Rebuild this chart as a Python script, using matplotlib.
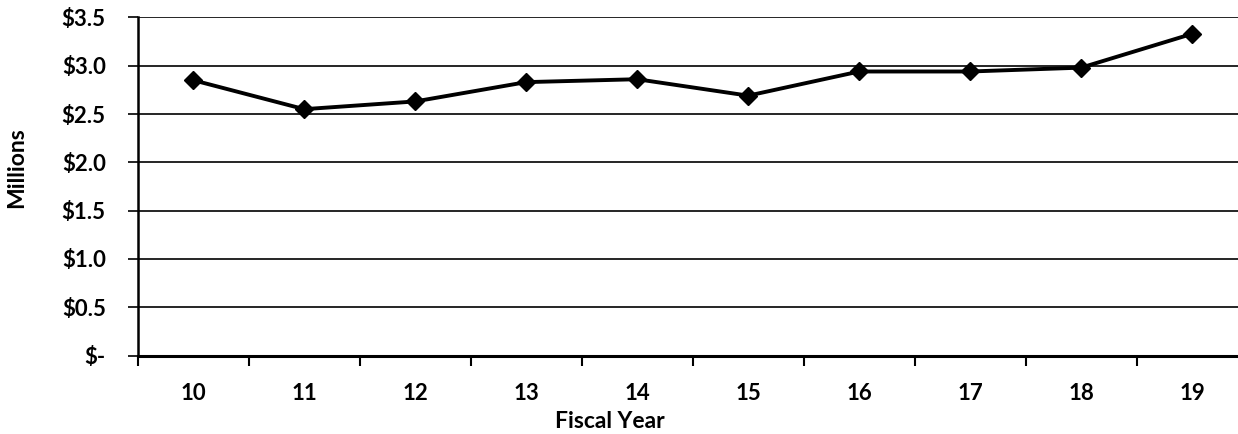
import matplotlib
matplotlib.use("Agg")
import matplotlib.pyplot as plt
from matplotlib.ticker import FixedLocator, NullFormatter

years = ["10", "11", "12", "13", "14", "15", "16", "17", "18", "19"]
values = [2.85, 2.55, 2.63, 2.83, 2.86, 2.69, 2.94, 2.94, 2.98, 3.33]
y_ticks = [0, 0.5, 1.0, 1.5, 2.0, 2.5, 3.0, 3.5]
y_labels = ["$-", "$0.5", "$1.0", "$1.5", "$2.0", "$2.5", "$3.0", "$3.5"]

plt.rcParams['font.family'] = ['Lato', 'DejaVu Sans']
plt.rcParams['font.weight'] = 'bold'

W, H = 1238, 434
fig = plt.figure(figsize=(W / 100, H / 100), dpi=100)
left, right, top, bottom = 137.7, 1247.7, 17.4, 355.5
ax = fig.add_axes([left / W, 1 - bottom / H, (right - left) / W, (bottom - top) / H])

x = list(range(len(years)))
ax.plot(x, values, color='black', lw=2.8, marker='D', markersize=9,
        markerfacecolor='black', markeredgecolor='black', zorder=3, clip_on=False)

ax.set_xlim(-0.5, len(years) - 0.5)
ax.set_ylim(0, 3.5)
ax.set_yticks(y_ticks)
ax.set_yticklabels(y_labels)
ax.yaxis.grid(True, color='black', lw=1.2)
ax.set_axisbelow(True)

ax.set_xticks(x)
ax.set_xticklabels(years)
ax.xaxis.set_minor_locator(FixedLocator([i - 0.5 for i in range(len(years) + 1)]))
ax.xaxis.set_minor_formatter(NullFormatter())
ax.tick_params(axis='x', which='major', length=0, pad=20, labelsize=16)
ax.tick_params(axis='x', which='minor', length=7, width=1.5, color='black')
ax.tick_params(axis='y', which='major', length=7, width=1.2, pad=16, labelsize=16)

for s in ['top', 'right']:
    ax.spines[s].set_visible(False)
ax.spines['left'].set_linewidth(1.8)
ax.spines['bottom'].set_linewidth(2.2)

fig.text(610 / W, 1 - 422 / H, "Fiscal Year", ha='center', va='center', fontsize=16.5, fontweight='bold')
fig.text(17 / W, 1 - 168 / H, "Millions", ha='center', va='center', rotation=90, fontsize=16.5, fontweight='bold')

fig.savefig("out.png", dpi=100)
